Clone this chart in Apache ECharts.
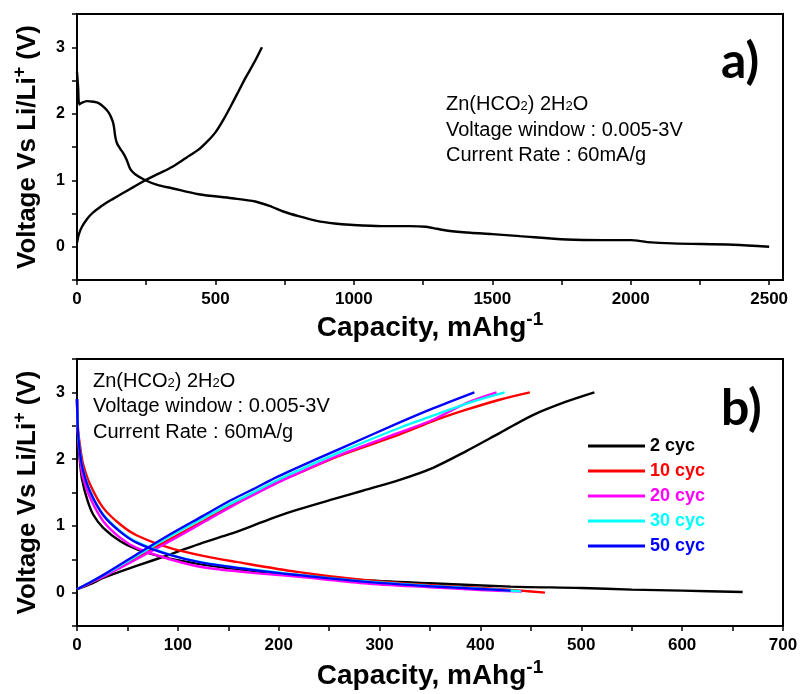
<!DOCTYPE html>
<html>
<head>
<meta charset="utf-8">
<title>Zn(HCO2)2 charge-discharge</title>
<script src="https://cdn.jsdelivr.net/npm/echarts@6.0.0/dist/echarts.min.js"></script>
<style>
  html, body { margin: 0; padding: 0; background: #fff; }
  #chart { width: 801px; height: 694px; }
</style>
</head>
<body>
<div id="chart"></div>
<script>
// ---- panel a) : first discharge / charge, capacity (mAh/g) vs voltage (V)
const capTicksA = [0, 250, 500, 750, 1000, 1250, 1500, 1750, 2000, 2250, 2500]
const capLabelsA = [0, 500, 1000, 1500, 2000, 2500]
const dischargeA = [
  [0, 2.63], [4, 2.4], [8, 2.14], [15, 2.16], [36, 2.19], [60, 2.18], [78, 2.16],
  [100, 2.09], [114, 2.02], [124, 1.94], [132, 1.84], [138, 1.66], [144, 1.56],
  [155, 1.48], [168, 1.4], [180, 1.3], [192, 1.17], [210, 1.09], [247, 1.0],
  [290, 0.93], [343, 0.88], [439, 0.79], [560, 0.73], [644, 0.68], [704, 0.6],
  [745, 0.53], [800, 0.46], [866, 0.39], [930, 0.35], [986, 0.33], [1100, 0.31],
  [1200, 0.31], [1260, 0.3], [1300, 0.27], [1340, 0.24], [1420, 0.21], [1500, 0.19],
  [1600, 0.16], [1769, 0.11], [1900, 0.1], [2000, 0.1], [2060, 0.07], [2150, 0.05],
  [2370, 0.03], [2500, 0.0]
]
const chargeA = [
  [0, 0.06], [6, 0.18], [18, 0.3], [35, 0.41], [54, 0.5], [78, 0.58], [102, 0.65],
  [130, 0.72], [163, 0.8], [205, 0.9], [247, 1.0], [295, 1.1], [343, 1.2], [395, 1.34],
  [439, 1.46], [470, 1.58], [500, 1.72], [530, 1.92], [560, 2.15], [585, 2.35],
  [610, 2.55], [640, 2.77], [668, 3.0]
]

// ---- panel b) : cycles 2..50
const capTicksB = [0, 50, 100, 150, 200, 250, 300, 350, 400, 450, 500, 550, 600, 650, 700]
const capLabelsB = [0, 100, 200, 300, 400, 500, 600, 700]
const voltTicks = [-0.5, 0, 0.5, 1, 1.5, 2, 2.5, 3, 3.5]
const voltLabels = [0, 1, 2, 3]
const cycleNames = ['2 cyc', '10 cyc', '20 cyc', '30 cyc', '50 cyc']
const cycleColors = ['#000000', '#ff0000', '#ff00ff', '#00ffff', '#0000ff']

const discharge2 = [
  [0, 2.9], [1, 2.3], [3, 1.95], [5, 1.7], [10, 1.4], [16, 1.17], [26, 0.97], [43, 0.77],
  [59, 0.65], [76, 0.57], [92, 0.51], [125, 0.42], [170, 0.33], [220, 0.26], [280, 0.19],
  [350, 0.14], [430, 0.09], [500, 0.07], [550, 0.045], [600, 0.03], [660, 0.01]
]
const charge2 = [
  [0, 0.05], [15, 0.14], [26, 0.22], [59, 0.4], [92, 0.57], [125, 0.75], [152, 0.88],
  [172, 0.99], [198, 1.14], [218, 1.24], [254, 1.4], [284, 1.53], [320, 1.69], [353, 1.87],
  [386, 2.12], [419, 2.39], [452, 2.66], [485, 2.86], [513, 3.0]
]
const discharge10 = [
  [0, 2.9], [1, 2.45], [3, 2.2], [6, 1.93], [13, 1.62], [26, 1.27], [43, 1.02], [59, 0.86],
  [92, 0.67], [125, 0.55], [158, 0.46], [218, 0.31], [284, 0.19], [350, 0.11], [400, 0.07],
  [440, 0.03], [464, 0.0]
]
const charge10 = [
  [0, 0.05], [15, 0.16], [30, 0.27], [59, 0.52], [92, 0.8], [125, 1.07], [152, 1.3],
  [172, 1.46], [198, 1.66], [218, 1.78], [260, 2.05], [320, 2.37], [353, 2.57], [386, 2.74],
  [419, 2.89], [449, 3.0]
]
const discharge20 = [
  [0, 2.9], [1, 2.35], [3, 2.0], [6, 1.72], [13, 1.42], [26, 1.07], [43, 0.82], [59, 0.67],
  [92, 0.5], [125, 0.38], [172, 0.3], [218, 0.24], [284, 0.14], [350, 0.08], [400, 0.04],
  [441, 0.015]
]
const charge20 = [
  [0, 0.05], [15, 0.16], [30, 0.27], [59, 0.5], [92, 0.77], [125, 1.05], [152, 1.28],
  [172, 1.44], [198, 1.64], [218, 1.78], [260, 2.06], [320, 2.4], [353, 2.59], [386, 2.84],
  [416, 3.0]
]
const discharge30 = [
  [0, 2.9], [1, 2.4], [3, 2.1], [6, 1.84], [13, 1.52], [26, 1.17], [43, 0.92], [59, 0.76],
  [92, 0.57], [125, 0.45], [172, 0.35], [218, 0.27], [284, 0.17], [350, 0.1], [400, 0.06],
  [440, 0.02]
]
const charge30 = [
  [0, 0.05], [15, 0.17], [30, 0.29], [59, 0.55], [92, 0.84], [125, 1.11], [152, 1.33],
  [172, 1.48], [198, 1.68], [218, 1.82], [260, 2.1], [320, 2.47], [353, 2.65], [390, 2.85],
  [424, 3.0]
]
const discharge50 = [
  [0, 2.9], [1, 2.4], [3, 2.09], [6, 1.83], [13, 1.51], [26, 1.16], [43, 0.91], [59, 0.75],
  [92, 0.565], [125, 0.445], [172, 0.345], [218, 0.265], [284, 0.165], [350, 0.095],
  [400, 0.055], [430, 0.03]
]
const charge50 = [
  [0, 0.05], [15, 0.17], [30, 0.3], [59, 0.57], [92, 0.87], [125, 1.15], [152, 1.38],
  [172, 1.53], [198, 1.73], [218, 1.87], [260, 2.15], [320, 2.55], [353, 2.76], [394, 3.0]
]
const cycleData = [
  [discharge2, charge2], [discharge10, charge10], [discharge20, charge20],
  [discharge30, charge30], [discharge50, charge50]
]

const plain = 'Liberation Sans, Arial, sans-serif'
const narrow = 'Liberation Sans Narrow, Arial Narrow, Liberation Sans, sans-serif'

function capAxis(gridIndex, max, ticks, labels, gap) {
  return {
    type: 'value',
    gridIndex: gridIndex,
    min: 0,
    max: max,
    name: 'Capacity, mAhg{sup|-1}',
    nameLocation: 'middle',
    nameGap: gap,
    nameTextStyle: {
      color: '#000', fontFamily: narrow, fontWeight: 'bold', fontSize: 28, lineHeight: 36,
      rich: { sup: { color: '#000', fontFamily: narrow, fontWeight: 'bold', fontSize: 19, lineHeight: 19, verticalAlign: 'top' } }
    },
    axisLine: { show: true, onZero: false, lineStyle: { color: '#000', width: 2 } },
    axisTick: { show: true, length: 5, customValues: ticks, lineStyle: { color: '#000', width: 1.5 } },
    axisLabel: {
      customValues: labels,
      formatter: v => String(v),
      margin: 11, color: '#000', fontFamily: plain, fontWeight: 'bold', fontSize: 17
    },
    splitLine: { show: false }
  }
}

function voltAxis(gridIndex) {
  return {
    type: 'value',
    gridIndex: gridIndex,
    min: -0.5,
    max: 3.5,
    name: 'Voltage Vs Li/Li{sup|+} (V)',
    nameLocation: 'middle',
    nameGap: 28,
    nameTextStyle: {
      color: '#000', fontFamily: plain, fontWeight: 'bold', fontSize: 26, lineHeight: 34,
      rich: { sup: { color: '#000', fontFamily: plain, fontWeight: 'bold', fontSize: 18, lineHeight: 18, verticalAlign: 'top' } }
    },
    axisLine: { show: true, onZero: false, lineStyle: { color: '#000', width: 2 } },
    axisTick: { show: true, length: 5, customValues: voltTicks, lineStyle: { color: '#000', width: 1.5 } },
    axisLabel: {
      customValues: voltLabels,
      formatter: v => String(v),
      margin: 12, color: '#000', fontFamily: plain, fontWeight: 'bold', fontSize: 16
    },
    splitLine: { show: false }
  }
}

function curve(name, data, color, xi) {
  return {
    type: 'line',
    name: name,
    xAxisIndex: xi,
    yAxisIndex: xi,
    data: data,
    symbol: 'none',
    smooth: 0.3,
    lineStyle: { color: color, width: 2.4 },
    itemStyle: { color: color }
  }
}

const series = [
  curve('1st discharge', dischargeA, '#000', 0),
  curve('1st charge', chargeA, '#000', 0)
]
cycleNames.forEach((n, i) => {
  series.push(curve(n, cycleData[i][0], cycleColors[i], 1))
  series.push(curve(n, cycleData[i][1], cycleColors[i], 1))
})

function note(x, y, text) {
  return {
    type: 'text', x: x, y: y, silent: true,
    style: {
      text: text, fill: '#000', fontFamily: plain, fontSize: 20, lineHeight: 24,
      verticalAlign: 'middle',
      rich: { sub: { fill: '#000', fontFamily: plain, fontSize: 13, lineHeight: 13, padding: [4, 0, 0, 0] } }
    }
  }
}

function panelTag(x, y, text) {
  return {
    type: 'text', x: x, y: y, silent: true,
    style: { text: text, fill: '#000', fontFamily: 'Lato, Open Sans, sans-serif', fontWeight: 'bold', fontSize: 50, verticalAlign: 'middle' }
  }
}

const chart = echarts.init(document.getElementById('chart'))
chart.setOption({
  animation: false,
  backgroundColor: '#fff',
  grid: [
    { left: 77, top: 14, width: 706, height: 266, show: true, borderColor: '#000', borderWidth: 2, outerBoundsMode: 'none' },
    { left: 77, top: 359, width: 706, height: 267, show: true, borderColor: '#000', borderWidth: 2, outerBoundsMode: 'none' }
  ],
  xAxis: [
    capAxis(0, 2550, capTicksA, capLabelsA, 30),
    capAxis(1, 700, capTicksB, capLabelsB, 32)
  ],
  yAxis: [voltAxis(0), voltAxis(1)],
  legend: {
    data: cycleNames.map((n, i) => ({ name: n, textStyle: { color: cycleColors[i] } })),
    orient: 'vertical',
    left: 583,
    top: 432,
    icon: 'rect',
    itemWidth: 57,
    itemHeight: 3,
    itemGap: 7,
    textStyle: { fontFamily: plain, fontWeight: 'bold', fontSize: 18, lineHeight: 16 },
    selectedMode: false
  },
  graphic: [
    note(446, 104, 'Zn(HCO{sub|2}) 2H{sub|2}O'),
    note(446, 130, 'Voltage window : 0.005-3V'),
    note(446, 155, 'Current Rate : 60mA/g'),
    note(93, 381, 'Zn(HCO{sub|2}) 2H{sub|2}O'),
    note(93, 406, 'Voltage window : 0.005-3V'),
    note(93, 432, 'Current Rate : 60mA/g'),
    panelTag(721, 62, 'a)'),
    panelTag(721, 409, 'b)')
  ],
  series: series
})
</script>
</body>
</html>
